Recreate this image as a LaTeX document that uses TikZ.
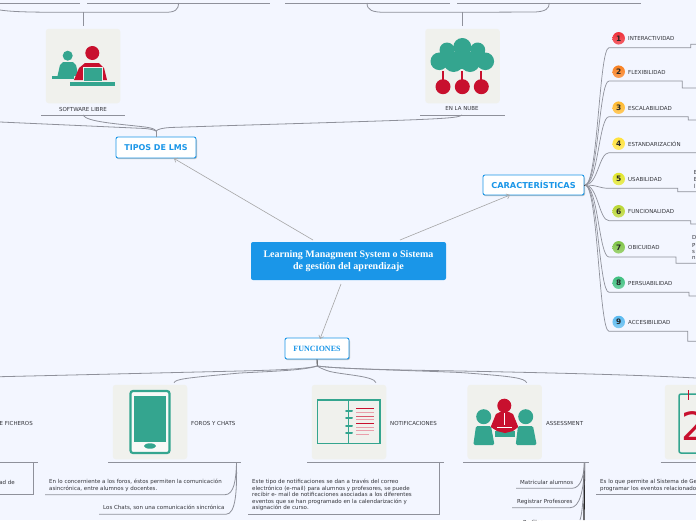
\documentclass[tikz,border=0pt]{standalone}
\usepackage{fontspec}
\setmainfont{DejaVu Sans}
\newfontfamily\serifb{Liberation Serif}
\usetikzlibrary{arrows.meta}
\definecolor{bgc}{HTML}{F3F6FF}
\definecolor{blu}{HTML}{1A96E8}
\definecolor{cardc}{HTML}{F0F1ED}
\definecolor{grn}{HTML}{34A58F}
\definecolor{redc}{HTML}{C8102E}
\definecolor{linec}{HTML}{8F919B}
\definecolor{txt}{HTML}{33343A}
\tikzset{
  x=1pt,y=-1pt,
  wire/.style={draw=linec,line width=.8pt},
  dark/.style={draw=black!80,line width=.9pt},
  feed/.style={draw=black!35,line width=.6pt,-{Straight Barb[length=3pt,width=5pt]}},
  topic/.style={draw=blu,line width=.9pt,fill=white,rounded corners=2pt,inner sep=0pt,
     text=blu,font=\bfseries\fontsize{8}{9}\selectfont},
  card/.style={fill=cardc,rounded corners=3pt,draw=none,minimum width=74.5pt,minimum height=74.5pt,inner sep=0pt},
  lab/.style={font=\fontsize{5.5}{6.6}\selectfont,text=txt,inner sep=0pt,anchor=west,align=left},
  clab/.style={lab,anchor=center,align=center},
  badge/.style={circle,minimum size=12.5pt,inner sep=0pt,font=\bfseries\fontsize{7.5}{8}\selectfont,text=black!85},
}
\begin{document}
\begin{tikzpicture}
\path[fill=bgc] (0,0) rectangle (696,520);
\clip (0,0) rectangle (696,520);

% ---- central and main topics
\node[fill=blu,rounded corners=2pt,minimum width=195pt,minimum height=38pt,inner sep=0pt,text=white,align=center,
  font=\serifb\bfseries\fontsize{10}{11.4}\selectfont] (root) at (348.5,261)
  {Learning Managment System o Sistema\\de gestión del aprendizaje};
\fill[black!25,rounded corners=2pt] (116.5,138.5) rectangle (197,159);
\node[topic,minimum width=80pt,minimum height=21pt] (tipos) at (156,147.5) {TIPOS DE LMS};
\fill[black!25,rounded corners=2pt] (483.5,176.5) rectangle (585,196);
\node[topic,minimum width=101pt,minimum height=20pt,font=\bfseries\fontsize{8.2}{9}\selectfont] (carac) at (533.5,185) {CARACTERÍSTICAS};
\fill[black!25,rounded corners=2pt] (285.5,339.5) rectangle (350,360);
\node[topic,minimum width=64pt,minimum height=21pt,font=\serifb\bfseries\fontsize{8}{9}\selectfont] (func) at (317,348.5) {FUNCIONES};

\coordinate (r1) at (313,240); \coordinate (r2) at (400,240); \coordinate (r3) at (341,284);
\coordinate (a1) at (174,158.5); \coordinate (a2) at (510,195); \coordinate (a3) at (320,339);
\draw[feed] (r1) -- (a1);
\draw[feed] (r2) -- (a2);
\draw[feed] (r3) -- (a3);

% ---- top branch
\draw[wire] (0,3) -- (80,3) (87,3) -- (270,3) (285,3) -- (450,3) (457,3) -- (640.7,3);
\coordinate (hubA) at (83,12.3); \coordinate (hubB) at (462,12.3);
\draw[wire] (0,10) .. controls (15,12.3) and (40,12.3) .. (hubA) -- (165,12.3) .. controls (175,12.3) and (178.5,10) .. (178.5,3);
\draw[wire] (367,3) .. controls (367,10) and (372,12.3) .. (385,12.3) -- (hubB) -- (535,12) .. controls (545,11.5) and (549.3,9) .. (549.3,3);

% ---- software libre
\node[card] (cardS) at (83,66) {};
\draw[wire,line width=1pt] (hubA) -- (83,26);
\fill[grn] (67.7,55.7) circle (5);
\fill[grn] (57.5,76) -- (60,65) -- (63,62) -- (73,62) -- (76,65) -- (78.5,76) -- cycle;
\fill[grn] (51.5,76) rectangle (74,79);
\fill[redc] (92.3,53) circle (7);
\fill[redc] (74,80) -- (79,68) -- (85,63) -- (99,63) -- (104,68) -- (107,80) -- cycle;
\fill[grn] (83,67) rectangle (102,82);
\draw[cardc,line width=.4] (83,67) rectangle (102,81.5);
\fill[grn] (70,81.5) rectangle (115,85.5);
\node[clab] (sl) at (83,109) {SOFTWARE LIBRE};
\coordinate (sl1) at (83,115);
\draw[wire] (41,115) -- (125,115);

% ---- en la nube
\node[card] (cardN) at (462.5,66) {};
\draw[wire,line width=1pt] (hubB) -- (462,26);
\fill[grn] (462.3,47) circle (9) (447,50) circle (7.5) (477.7,50) circle (7.5)
  (439.3,61.3) circle (8.8) (485.3,61.3) circle (8.8) (453.7,62) circle (10) (470,62) circle (10) (462,60) circle (9);
\foreach \bx in {443,462.3,481.3}{
  \fill[redc] (\bx-1,71) rectangle (\bx+1,81);
  \fill[redc] (\bx,86.7) circle (7.5);
}
\node[clab] (nu) at (462,109) {EN LA NUBE};
\coordinate (nu1) at (462,115);
\draw[wire] (420,115) -- (505,115);

% ---- connectors into TIPOS
\coordinate (tt) at (156,131);
\draw[wire,line width=1pt] (tt) -- (tipos.north);
\draw[wire] (sl1) .. controls (86,122) and (120,124) .. (145,127) .. controls (152,128) and (155,129) .. (tt);
\draw[wire] (0,122) -- (145,128.5) .. controls (151,129) and (154,130) .. (tt);
\draw[wire] (nu1) .. controls (458,119) and (430,119.5) .. (232,125.5) -- (170,127.5) .. controls (163,128) and (158,129) .. (tt);

% ---- characteristics
\coordinate (hubC) at (585,185);
\draw[dark] (carac.east) -- (hubC);
\foreach \n/\y/\col/\lab/\uy/\sx/\ey in {
 1/38.3/F0303A/INTERACTIVIDAD/47.7/690.7/44.3,
 2/71.7/F98020/FLEXIBILIDAD/81/682.3/88,
 3/107.7/FFB92E/ESCALABILIDAD/116.7/688.3/120,
 4/143.7/FFE23A/ESTANDARIZACIÓN/152.7/696/152.7,
 5/179/E2E62C/USABILIDAD/188.3/677.7/191.7,
 6/211.3/B9D632/FUNCIONALIDAD/220.7/690.7/224,
 7/247.3/80C548/OBICUIDAD/257/676/263.3,
 8/282.7/3FC080/PERSUABILIDAD/292.3/689/296,
 9/322/5ABAF0/ACCESIBILIDAD/331.3/687.7/341.3}{
  \definecolor{bc}{HTML}{\col}
  \node[badge,top color=bc,bottom color=bc!75!white] (b\n) at (618.7,\y) {\n};
  \node[lab] (t\n) at (628,\y+.4) {\lab};
  \coordinate (u\n) at (609,\uy);
  \draw[wire,line width=.7pt] (hubC) .. controls (598,185) and (599,\uy) .. (u\n) -- (\sx,\uy) -- (\sx,\ey) -- (696,\ey);
}
\node[lab] (e1) at (693.7,172) {E};
\node[lab] (e2) at (693.7,179) {E};
\node[lab] (e3) at (693.7,186) {l};
\node[lab] (d1) at (692,237.7) {D};
\node[lab] (d2) at (692,245) {P};
\node[lab] (d3) at (692,251.5) {s};
\node[lab] (d4) at (692,257.5) {n};

% ---- functions hub and cards
\coordinate (hubF) at (317.3,366);
\draw[dark] (func.south) -- (hubF);
\node[card] (cardF) at (150,422) {};
\node[card] (cardT) at (349,422) {};
\node[card] (cardA) at (504.7,422) {};
\node[card] (cardC) at (702,422) {};
\coordinate (f1) at (174,382.7); \coordinate (f2) at (376,382.7); \coordinate (f3) at (526.7,382.7);
\draw[wire] (0,376.7) -- (240,371) .. controls (280,370) and (305,369) .. (hubF);
\draw[wire] (f1) .. controls (176,379) and (185,378) .. (240,373) .. controls (280,371) and (305,370) .. (hubF);
\draw[wire] (f2) .. controls (374,376) and (345,375) .. (330,371.5) .. controls (325,370) and (320,368) .. (hubF);
\draw[wire] (f3) .. controls (524,378) and (515,376.5) .. (460,372.5) .. controls (400,370) and (340,369) .. (hubF);
\draw[wire] (696,378) .. controls (640,375) and (560,373) .. (460,371) .. controls (400,370) and (340,369) .. (hubF);

% tablet
\draw[grn,line width=2.2pt,rounded corners=2.5pt,fill=white!60!cardc] (130.5,391) rectangle (169.5,453);
\fill[grn] (134,396) rectangle (165.7,441.7);
\fill[grn] (150,446) ellipse (6 and 2.7);

% notebook
\draw[grn,line width=1.2pt] (317.5,400) rectangle (380,443.3) (348.7,400) -- (348.7,443.3);
\foreach \ry in {411,418.3,425.7,433}{
  \draw[grn,line width=2pt,line cap=round] (346,\ry) -- (352,\ry);
}
\foreach \ry/\rc in {408.7/redc,412.3/redc!40,416/redc!70,419.7/redc!40,423.3/redc,427/redc!40,430.7/redc!40}{
  \draw[\rc,line width=.9pt] (356,\ry) -- (374,\ry);
}
\draw[redc!40,line width=.9pt] (356,434.3) -- (368.7,434.3);

% assessment
\fill[redc] (504.3,405.7) circle (7);
\fill[grn] (483.7,416.7) circle (7.5) (525.7,416.7) circle (7.5);
\fill[grn] (495,431) rectangle (515,437);
\fill[redc] (490.7,427) -- (496,414) -- (500,412) -- (509,412) -- (513,414) -- (518.3,427) -- (513,431) -- (505,433) -- (497,431) -- cycle;
\draw[white,line width=.4] (504.5,413) -- (504.5,425) (497,427) -- (512,427);
\fill[grn,rounded corners=1.5pt] (473.3,445) -- (476,426) -- (491,426) -- (494.5,445) -- cycle;
\fill[grn,rounded corners=1.5pt] (515.7,445) -- (518,426) -- (533,426) -- (536.7,445) -- cycle;

% calendar
\draw[grn,line width=1.5pt,rounded corners=2pt] (705,394) -- (679,394) -- (679,453) -- (705,453);
\draw[redc,line width=1.2pt] (688.7,390) -- (688.7,400);
\node[text=redc,inner sep=0pt,anchor=west,font=\fontsize{39}{39}\selectfont] (cal) at (681,426) {2};

% labels and underlines
\node[lab,anchor=east] (fich) at (33,423) {E FICHEROS};
\node[lab] (foros) at (191,423) {FOROS Y CHATS};
\node[lab] (noti) at (390,423) {NOTIFICACIONES};
\node[lab] (asse) at (546,423) {ASSESSMENT};
\draw[wire,line width=1pt] (0,462.7) -- (38,462.7) (108,462.7) -- (241,462.7)
   (307,462.7) -- (444,462.7) (463,462.7) -- (588.7,462.7) (660.7,462.7) -- (696,462.7);

% ficheros child
\node[lab,anchor=east] (fc) at (15,482) {ad de};
\draw[wire] (33.5,462.7) -- (33.5,494.5) -- (0,494.5);

% foros children
\coordinate (fh) at (236.5,463);
\node[lab] (fo1) at (49,485.3) {En lo concerniente a los foros, éstos permiten la comunicación\\asincrónica, entre alumnos y docentes.};
\node[lab] (fo2) at (103,508) {Los Chats, son una comunicación sincrónica};
\draw[wire] (fh) .. controls (236,480) and (234,494.7) .. (225,494.7) -- (45,494.7);
\draw[wire] (fh) .. controls (237,490) and (236,514.3) .. (226,514.3) -- (99,514.3);

% notification child
\node[lab] (no1) at (252,495) {Este tipo de notificaciones se dan a través del correo\\electrónico (e-mail) para alumnos y profesores, se puede\\recibir e- mail de notificaciones asociadas a los diferentes\\eventos que se han programado en la calendarización y\\asignación de curso.};
\draw[wire] (439.3,462.7) -- (439.3,514) -- (248,514);

% assessment children
\coordinate (ah) at (584.5,463);
\node[lab] (as1) at (520,482) {Matricular alumnos};
\node[lab] (as2) at (517,502) {Registrar Profesores};
\node[lab] (as3) at (523,522) {Perfiles};
\draw[wire] (ah) .. controls (584,475) and (581,488.3) .. (572,488.3) -- (516,488.3);
\draw[wire] (ah) .. controls (584,490) and (580,507.7) .. (570,507.7) -- (512,507.7);
\draw[black!85,line width=1.3pt] (ah) -- (584,520);
\draw[wire] (ah) .. controls (584,495) and (582,515) .. (580,520);

% calendar child
\node[lab] (cc) at (600,485.3) {Es lo que permite al Sistema de Gestión\\programar los eventos relacionados};
\draw[wire] (596,494.7) -- (696,494.7);
\end{tikzpicture}
\end{document}
